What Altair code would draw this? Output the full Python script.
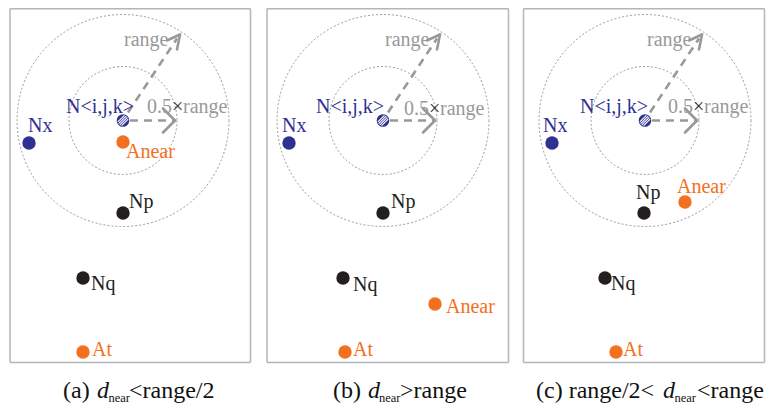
import altair as alt
import pandas as pd

# ---------------- data (page-pixel coordinates) ----------------
panels = ["a", "b", "c"]
box_left = [10, 267, 523.5]
box_right = [250.5, 508.5, 764.5]
box_top = [8.8, 8.8, 8.8]
box_bottom = [362.5, 362.5, 362.5]

center_x = [123, 383, 645]
center_y = [120.5, 120.5, 120.5]
inner_radius = [54, 54, 54]
outer_radius = [106, 106, 106]

node_names = ["Nx", "Np", "Nq", "Anear", "At"]
node_colors = ["#2e3192", "#231f20", "#231f20", "#f37021", "#f37021"]
node_x = {"a": [29, 123, 83, 123, 83],
          "b": [289, 383, 343, 435, 345],
          "c": [552, 644, 605, 685, 616]}
node_y = {"a": [143, 213, 278, 142, 352],
          "b": [143, 213, 278, 304, 352],
          "c": [143, 213, 278, 202, 352]}
label_x = {"a": [28, 129, 91, 126, 92],
           "b": [282, 391, 353, 446, 353],
           "c": [543, 636, 611, 677, 623]}
label_y = {"a": [132, 208, 290, 158, 356],
           "b": [132, 208, 291, 313, 356],
           "c": [132, 199, 290, 193, 356]}

center_label_x = [66, 316, 580]
center_label_y = [113, 113, 113]
range_label_x = [124, 385, 647]
range_label_y = [46, 46, 46]
half_label_x = [147, 404, 668]
half_label_y = [113, 115, 113]

# arrow geometry relative to the panel centre
h_shaft = [(7, 0), (51, 0)]
h_head = [(40, -12), (52, 0), (40, 12)]
d_shaft = [(5, -8), (54, -82)]
d_head = [(44, -80), (57, -86), (54, -71)]

caption_texts = ["(a) ", "d", "near", "<range/2",
                 "(b) ", "d", "near", ">range",
                 "(c) range/2<", "d", "near", "<range"]
caption_x = [63, 97, 108.5, 129,
             333, 368, 379, 400,
             536, 663, 674.5, 697]
caption_kind = ["main", "ital", "sub", "main"] * 3

# ---------------- build tables ----------------
FONT = "Liberation Serif, Times New Roman, serif"
BLUE = "#2e3192"
GRAY = "#999999"
BOXGRAY = "#b5b5b5"

box_rows = []
for i in range(3):
    L, R, T, B = box_left[i], box_right[i], box_top[i], box_bottom[i]
    box_rows += [dict(x=L, y=T, x2=R, y2=T), dict(x=L, y=B, x2=R, y2=B),
                 dict(x=L, y=T, x2=L, y2=B), dict(x=R, y=T, x2=R, y2=B)]
boxes = pd.DataFrame(box_rows)

circ_rows = []
for i in range(3):
    for r in (inner_radius[i], outer_radius[i]):
        circ_rows.append(dict(x=center_x[i], y=center_y[i], s=(2 * r) ** 2))
circles = pd.DataFrame(circ_rows)

node_rows, lab_rows = [], []
for p in panels:
    for k, n in enumerate(node_names):
        node_rows.append(dict(x=node_x[p][k], y=node_y[p][k], c=node_colors[k]))
        lab_rows.append(dict(x=label_x[p][k], y=label_y[p][k], t=n, c=node_colors[k]))
nodes = pd.DataFrame(node_rows)

for i in range(3):
    lab_rows.append(dict(x=center_label_x[i], y=center_label_y[i], t="N<i,j,k>", c=BLUE))
    lab_rows.append(dict(x=range_label_x[i], y=range_label_y[i], t="range", c=GRAY))
    lab_rows.append(dict(x=half_label_x[i], y=half_label_y[i], t="0.5", c=GRAY))
    lab_rows.append(dict(x=half_label_x[i] + 25, y=half_label_y[i], t="×", c="#333333"))
    lab_rows.append(dict(x=half_label_x[i] + 36, y=half_label_y[i], t="range", c=GRAY))
labels = pd.DataFrame(lab_rows)

centers = pd.DataFrame(dict(x=center_x, y=center_y))

shaft_rows, head_rows = [], []
for i in range(3):
    cx, cy = center_x[i], center_y[i]
    for sh in (h_shaft, d_shaft):
        shaft_rows.append(dict(x=cx + sh[0][0], y=cy + sh[0][1], x2=cx + sh[1][0], y2=cy + sh[1][1]))
    for hd in (h_head, d_head):
        for a, b in ((hd[0], hd[1]), (hd[1], hd[2])):
            head_rows.append(dict(x=cx + a[0], y=cy + a[1], x2=cx + b[0], y2=cy + b[1]))
shafts = pd.DataFrame(shaft_rows)
heads = pd.DataFrame(head_rows)

cap = pd.DataFrame(dict(t=caption_texts, x=caption_x, k=caption_kind))
cap_main = cap[cap.k == "main"].assign(y=398)
cap_ital = cap[cap.k == "ital"].assign(y=398)
cap_sub = cap[cap.k == "sub"].assign(y=401.5)

# ---------------- scales ----------------
xs = alt.Scale(domain=[8, 766], nice=False, zero=False)
ys = alt.Scale(domain=[8, 404], nice=False, zero=False, reverse=True)
X = lambda f="x": alt.X(f"{f}:Q", scale=xs, axis=None)
Y = lambda f="y": alt.Y(f"{f}:Q", scale=ys, axis=None)

box_layer = alt.Chart(boxes).mark_rule(color=BOXGRAY, strokeWidth=1.5).encode(
    x=X(), y=Y(), x2="x2:Q", y2="y2:Q")

circle_layer = alt.Chart(circles).mark_point(
    shape="circle", filled=False, color="#808080", strokeWidth=0.8,
    strokeDash=[2, 2], opacity=1).encode(
    x=X(), y=Y(), size=alt.Size("s:Q", scale=None, legend=None))

shaft_layer = alt.Chart(shafts).mark_rule(
    color=GRAY, strokeWidth=2.6, strokeDash=[8, 6]).encode(
    x=X(), y=Y(), x2="x2:Q", y2="y2:Q")

head_layer = alt.Chart(heads).mark_rule(
    color=GRAY, strokeWidth=2.6, strokeCap="round").encode(
    x=X(), y=Y(), x2="x2:Q", y2="y2:Q")

node_layer = alt.Chart(nodes).mark_point(
    shape="circle", filled=True, size=180, opacity=1).encode(
    x=X(), y=Y(), color=alt.Color("c:N", scale=None))

center_fill = alt.Chart(centers).mark_point(
    shape="circle", filled=True, size=160, opacity=1, color=BLUE).encode(x=X(), y=Y())

hatch_path = ("M-0.821,0.221L0.221,-0.821 M-0.693,0.493L0.493,-0.693 "
              "M-0.493,0.693L0.693,-0.493 M-0.221,0.821L0.821,-0.221")
center_hatch = alt.Chart(centers).mark_point(
    shape=hatch_path, filled=False, size=160, stroke="white", strokeWidth=1.1,
    opacity=1).encode(x=X(), y=Y())

label_layer = alt.Chart(labels).mark_text(
    font=FONT, fontSize=20, align="left", baseline="alphabetic").encode(
    x=X(), y=Y(), text="t:N", color=alt.Color("c:N", scale=None))

cap_main_layer = alt.Chart(cap_main).mark_text(
    font=FONT, fontSize=24, align="left", baseline="alphabetic", color="#111111").encode(
    x=X(), y=Y(), text="t:N")
cap_ital_layer = alt.Chart(cap_ital).mark_text(
    font=FONT, fontSize=24, fontStyle="italic", align="left", baseline="alphabetic",
    color="#111111").encode(x=X(), y=Y(), text="t:N")
cap_sub_layer = alt.Chart(cap_sub).mark_text(
    font=FONT, fontSize=12.5, align="left", baseline="alphabetic", color="#111111").encode(
    x=X(), y=Y(), text="t:N")

chart = alt.layer(
    box_layer, circle_layer, shaft_layer, head_layer, node_layer,
    center_fill, center_hatch, label_layer,
    cap_main_layer, cap_ital_layer, cap_sub_layer
).properties(
    width=758, height=396, padding=0,
    autosize=alt.AutoSizeParams(type="none")
).configure_view(strokeWidth=0)

chart.save("out.html", embed_options={"renderer": "svg", "actions": False})
